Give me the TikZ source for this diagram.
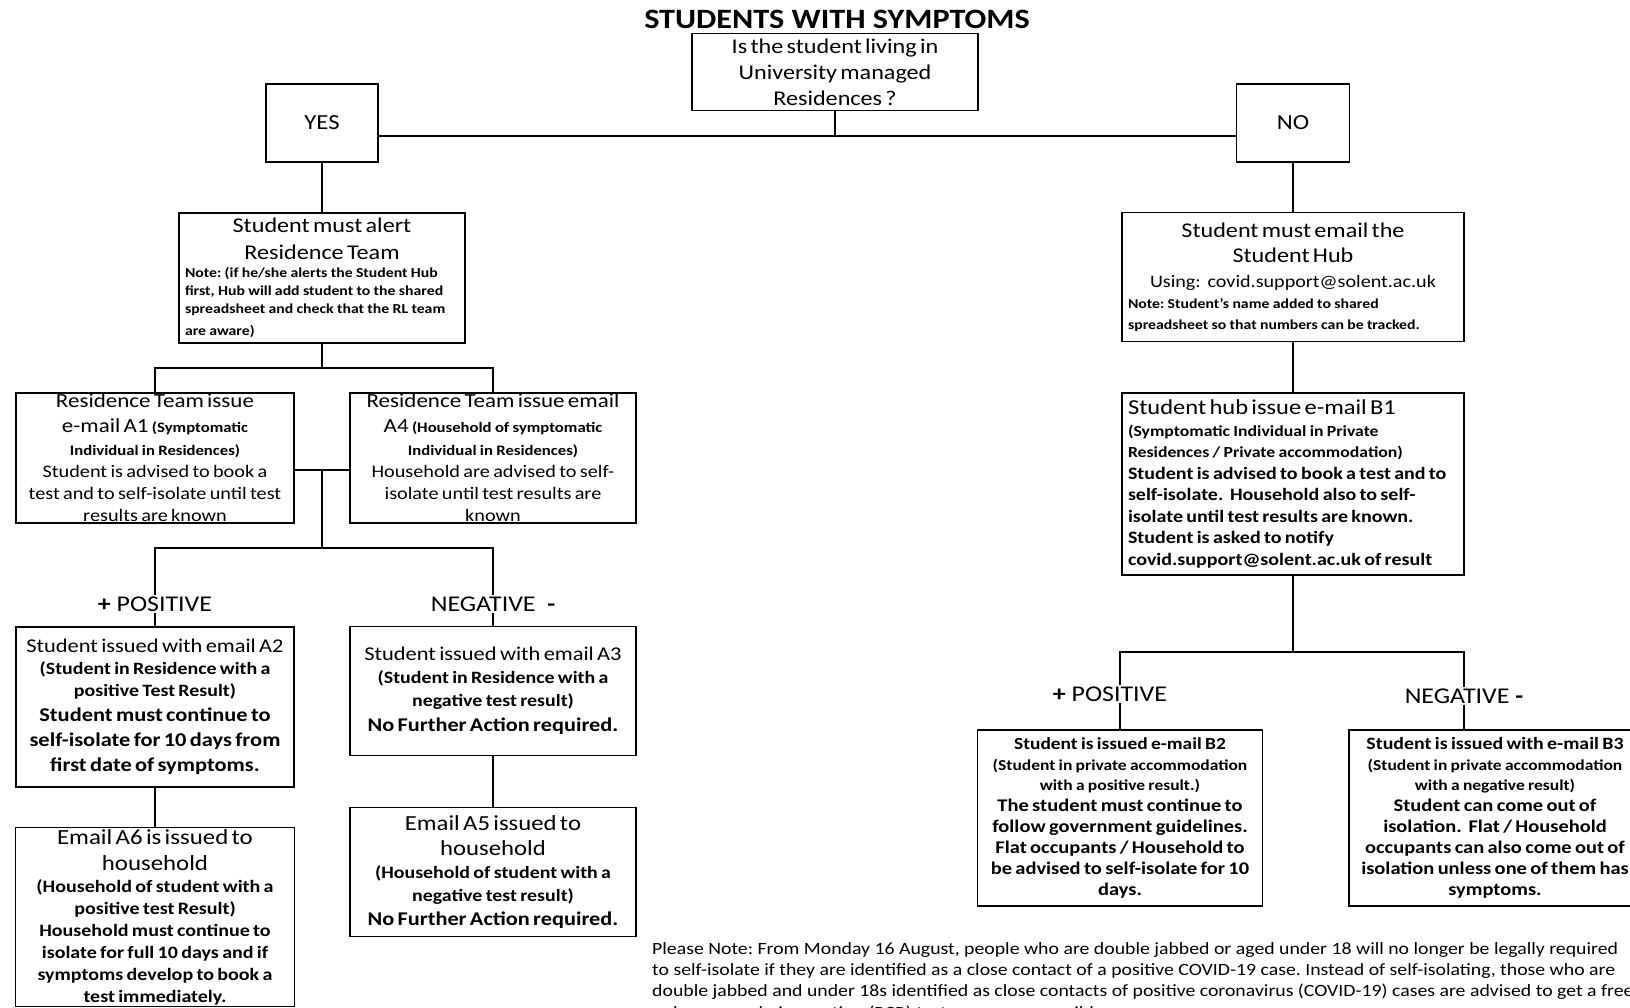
\documentclass[tikz,border=0pt]{standalone}
\usepackage{fontspec}
\setmainfont{Carlito}[FakeStretch=1.15]
\usetikzlibrary{positioning, calc}
\setlength{\parindent}{0pt}
\frenchspacing

% size and line spacing in one go
\newcommand{\fsz}[2]{\fontsize{#1}{#2}\selectfont}

\tikzset{
  box/.style={draw, line width=1.3pt, align=center, inner xsep=2pt, inner ysep=1pt},
  tag/.style={inner sep=1pt, font=\fsz{22.5}{27}},
  link/.style={line width=1.3pt},
}

\begin{document}
\begin{tikzpicture}[x=1pt, y=-1pt]
    \useasboundingbox (0,0) rectangle (1630,1008);

    % title and question
    \node[font=\fsz{28}{32}\bfseries] (title) at (837,19) {STUDENTS WITH SYMPTOMS};
    \node[box, minimum width=286, minimum height=77, text width=282, inner ysep=0pt] (q) at (835,72) {\fsz{21}{26}Is the student living in\\University managed\\Residences ?\par};
    \node[box, minimum width=112, minimum height=78] (yes) at (322,123) {\fsz{21.5}{26}YES};
    \node[box, minimum width=113, minimum height=78] (no) at (1293,123) {\fsz{21.5}{26}NO};
    \coordinate (qj) at (835,136);
    \draw[link] (q) -- (qj);
    \draw[link] (yes.east |- qj) -- (no.west |- qj);

    % YES branch
    \node[box, minimum width=286, minimum height=130, text width=274, inner xsep=6pt, inner ysep=0pt] (alert) at (322,278) {\fsz{21}{27}Student must alert\\Residence Team\par{\raggedright\fsz{13.7}{18}\bfseries Note: (if he/she alerts the Student Hub\\first, Hub will add student to the shared\\spreadsheet and check that the RL team\\[4pt]are aware)\par}};
    \draw[link] (yes) -- (alert);

    \node[box, minimum width=278, minimum height=130, text width=274, inner ysep=-3pt] (a1) at (155,458) {\fsz{20}{25}Residence Team issue\\e-mail A1 {\fsz{14.5}{22}\bfseries (Symptomatic}\par{\fsz{14.5}{23}\bfseries Individual in Residences)\par}\fsz{17.6}{22}Student is advised to book a\\test and to self-isolate until test\\results are known\par};
    \node[box, minimum width=286, minimum height=130, text width=282, inner ysep=-3pt] (a4) at (493,458) {\fsz{20}{25}Residence Team issue email\\A4 {\fsz{14.5}{22}\bfseries (Household of symptomatic}\par{\fsz{14.5}{23}\bfseries Individual in Residences)\par}\fsz{17.6}{22}Household are advised to self-\\isolate until test results are\\known\par};
    \coordinate (aj) at (322,368);
    \draw[link] (alert) -- (aj);
    \draw[link] (a1.north) |- (aj) -| (a4.north);

    \coordinate (mid) at (322,470);
    \coordinate (rj) at (322,548);
    \draw[link] (a1.east |- mid) -- (a4.west |- mid);
    \draw[link] (mid) -- (rj);

    \node[tag] (pos) at (155,604) {\textbf{+} POSITIVE};
    \node[tag] (neg) at (493,604) {NEGATIVE \ \textbf{-}};
    \draw[link] (pos.north) |- (rj) -| (neg.north);

    \node[box, minimum width=278, minimum height=160, text width=274] (a2) at (155,707) {\fsz{19.5}{22}Student issued with email A2\par{\fsz{17.3}{22}\bfseries (Student in Residence with a\\positive Test Result)\par}\fsz{19.5}{25}\bfseries Student must continue to\\self-isolate for 10 days from\\first date of symptoms.\par};
    \node[box, minimum width=286, minimum height=129, text width=282] (a3) at (493,691) {\fsz{19.5}{23}Student issued with email A3\par{\fsz{17.3}{23}\bfseries (Student in Residence with a\\negative test result)\par}\fsz{19.4}{25}\bfseries No Further Action required.\par};
    \draw[link] (pos) -- (a2);
    \draw[link] (neg) -- (a3);

    \node[box, minimum width=279, minimum height=179, text width=275, inner ysep=-3pt] (a6) at (155,917) {\fsz{21.6}{26}Email A6 is issued to\\household\par\fsz{17.4}{22}\bfseries (Household of student with a\\positive test Result)\\Household must continue to\\isolate for full 10 days and if\\symptoms develop to book a\\test immediately.\par};
    \node[box, minimum width=286, minimum height=129, text width=282, inner ysep=0pt] (a5) at (493,872) {\fsz{21.5}{25}Email A5 issued to\\household\par{\fsz{17.3}{23}\bfseries (Household of student with a\\negative test result)\par}\fsz{19.4}{24}\bfseries No Further Action required.\par};
    \draw[link] (a2) -- (a6);
    \draw[link] (a3) -- (a5);

    % NO branch
    \node[box, minimum width=342, minimum height=129, text width=330, inner xsep=6pt, inner ysep=0pt] (hub) at (1293,277) {\fsz{21}{25}Student must email the\\Student Hub\par\fsz{17.5}{25}Using: \ covid.support@solent.ac.uk\par{\raggedright\fsz{13.7}{21}\bfseries Note: Student's name added to shared\\spreadsheet so that numbers can be tracked.\par}};
    \draw[link] (no) -- (hub);

    \node[box, minimum width=342, minimum height=182, text width=330, inner xsep=6pt, align=left] (b1) at (1293,484) {\fsz{21.3}{22}Student hub issue e-mail B1\par{\fsz{15.4}{21.5}\bfseries (Symptomatic Individual in Private\\Residences / Private accommodation)\par}\fsz{17.4}{21.5}\bfseries Student is advised to book a test and to\\self-isolate. \ Household also to self-\\isolate until test results are known.\\Student is asked to notify\\covid.support@solent.ac.uk of result\par};
    \draw[link] (hub) -- (b1);

    \node[box, minimum width=285, minimum height=176, text width=281] (b2) at (1120,818) {{\fsz{16.9}{21}\bfseries Student is issued e-mail B2\par}{\fsz{15.2}{20.5}\bfseries (Student in private accommodation\\with a positive result.)\par}\fsz{17.8}{21}\bfseries The student must continue to\\follow government guidelines.\\Flat occupants / Household to\\be advised to self-isolate for 10\\days.\par};
    \node[box, minimum width=292, minimum height=176, text width=288] (b3) at (1495,818) {{\fsz{17.3}{21}\bfseries Student is issued with e-mail B3\par}{\fsz{15.2}{20.5}\bfseries (Student in private accommodation\\with a negative result)\par}\fsz{17.8}{21}\bfseries Student can come out of\\isolation. \ Flat / Household\\occupants can also come out of\\isolation unless one of them has\\symptoms.\par};

    \coordinate (bj) at (1293,652);
    \node[tag] (pos2) at (1110,694) {\textbf{+} POSITIVE};
    \node[tag] (neg2) at (1464,696) {NEGATIVE \textbf{-}};
    \draw[link] (b1) -- (bj);
    \draw[link] (pos2.north -| b2.north) |- (bj) -| (neg2.north);
    \draw[link] (pos2.south -| b2.north) -- (b2.north);
    \draw[link] (neg2.south) -- (neg2 |- b3.north);

    % note at the bottom
    \node[anchor=north west, inner sep=0pt, align=left, font=\fsz{17.2}{21.3}] (note) at (652,942) {Please Note: From Monday 16 August, people who are double jabbed or aged under 18 will no longer be legally required\\to self-isolate if they are identified as a close contact of a positive COVID-19 case. Instead of self-isolating, those who are\\double jabbed and under 18s identified as close contacts of positive coronavirus (COVID-19) cases are advised to get a free\\polymerase chain reaction (PCR) test as soon as possible.};
\end{tikzpicture}
\end{document}
